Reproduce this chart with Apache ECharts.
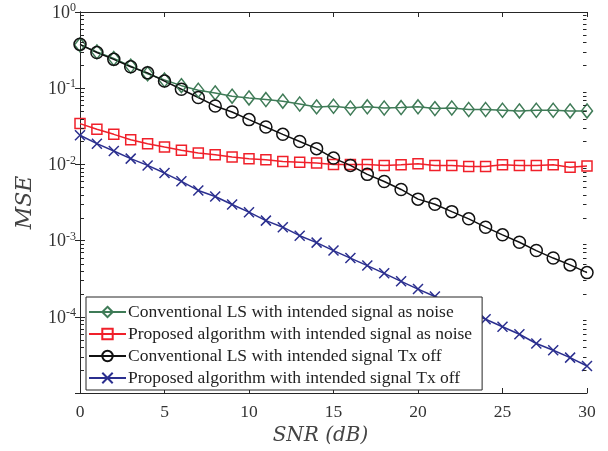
<!DOCTYPE html>
<html>
<head>
<meta charset="utf-8">
<script src="https://cdn.jsdelivr.net/npm/echarts@6/dist/echarts.min.js"></script>
<style>
  html, body { margin: 0; padding: 0; background: #fff; }
  #chart { width: 608px; height: 451px; }
</style>
</head>
<body>
<div id="chart"></div>
<script>
// SNR points (dB)
const snr = [0, 1, 2, 3, 4, 5, 6, 7, 8, 9, 10, 11, 12, 13, 14, 15, 16, 17, 18, 19, 20, 21, 22, 23, 24, 25, 26, 27, 28, 29, 30];

const lsNoise = [0.37, 0.30, 0.245, 0.195, 0.155, 0.128, 0.108, 0.094, 0.0867, 0.0785, 0.0745, 0.071, 0.0675, 0.062, 0.0568, 0.058,
    0.055, 0.057, 0.055, 0.0557, 0.057, 0.054, 0.055, 0.0525, 0.0525, 0.0514, 0.0503, 0.0514, 0.0514, 0.0503, 0.0503];
const propNoise = [0.0343, 0.0289, 0.0248, 0.0211, 0.0187, 0.0169, 0.0153, 0.0141, 0.0134, 0.0125, 0.0119, 0.0115, 0.0109, 0.0107, 0.0104, 0.0100,
    0.0100, 0.0100, 0.0097, 0.0099, 0.0102, 0.0097, 0.0097, 0.0094, 0.0094, 0.0099, 0.0097, 0.0097, 0.0099, 0.0092, 0.0095];
const lsOff = [0.376, 0.294, 0.239, 0.191, 0.159, 0.124, 0.097, 0.0755, 0.0585, 0.0488, 0.0387, 0.031, 0.0248, 0.020, 0.0161, 0.0121,
    0.0097, 0.0074, 0.00597, 0.00469, 0.0035, 0.003, 0.0024, 0.00193, 0.0015, 0.00119, 0.00095, 0.00074, 0.00059, 0.00048, 0.00038];
const propOff = [0.0241, 0.0187, 0.015, 0.0119, 0.0097, 0.0077, 0.006, 0.00455, 0.00379, 0.00298, 0.00236, 0.00183, 0.0015, 0.00116, 0.00094, 0.00074,
    0.00059, 0.00047, 0.000372, 0.000292, 0.000231, 0.000185, 0.000148, 0.000117, 0.000093, 0.000074, 0.000059, 0.0000446, 0.0000364, 0.0000291, 0.0000226];

const names = [
    'Conventional LS with intended signal as noise',
    'Proposed algorithm with intended signal as noise',
    'Conventional LS with intended signal Tx off',
    'Proposed algorithm with intended signal Tx off'
];

const xTicks = [0, 5, 10, 15, 20, 25, 30];
const yDecades = [1e-5, 1e-4, 1e-3, 1e-2, 1e-1, 1];

// minor ticks at 2..9 x 10^k
const minorTicks = [];
for (let i = 0; i < yDecades.length - 1; i++) {
    for (let m = 2; m <= 9; m++) minorTicks.push([0, yDecades[i] * m]);
}

const font = 'Liberation Serif';
const nameFont = 'DejaVu Serif';
const axisColor = '#262626';
const crossPath = 'path://M0,0L10,10M10,0L0,10';

function pairs(ys) {
    return snr.map((x, i) => [x, ys[i]]);
}

function lineSeries(name, ys, color, symbol, size) {
    return {
        name: name,
        type: 'line',
        data: pairs(ys),
        symbol: symbol,
        symbolSize: size,
        showAllSymbol: true,
        lineStyle: { color: color, width: 1.5 },
        itemStyle: { color: 'rgba(0,0,0,0)', borderColor: color, borderWidth: 1.5 },
        emphasis: { disabled: true },
        animation: false,
        z: 3
    };
}

const chart = echarts.init(document.getElementById('chart'));

const option = {
    backgroundColor: '#fff',
    animation: false,
    grid: { left: 80, right: 21, top: 12, bottom: 58 },
    legend: {
        data: names,
        orient: 'vertical',
        left: 86,
        top: 297,
        padding: [6, 10, 3, 2],
        itemWidth: 37,
        itemHeight: 13,
        itemGap: 4,
        backgroundColor: '#fff',
        borderColor: axisColor,
        borderWidth: 1,
        borderRadius: 0,
        textStyle: { fontFamily: font, fontSize: 17.5, color: '#222', lineHeight: 17, padding: [0, 0, 0, -3] }
    },
    xAxis: [
        {
            type: 'value',
            min: 0, max: 30, interval: 5,
            name: 'SNR (dB)',
            nameLocation: 'middle',
            nameGap: 31,
            nameTextStyle: { fontFamily: nameFont, fontStyle: 'italic', fontSize: 20, color: '#444', padding: [0, 26, 0, 0] },
            axisLine: { show: true, lineStyle: { color: axisColor, width: 1 } },
            axisTick: { inside: true, length: 5, lineStyle: { color: axisColor } },
            axisLabel: { fontFamily: font, fontSize: 17.5, color: '#333', margin: 10,
                formatter: v => xTicks.includes(v) ? String(v) : '' },
            splitLine: { show: false }
        },
        {
            type: 'value',
            position: 'top',
            min: 0, max: 30, interval: 5,
            axisLine: { show: true, lineStyle: { color: axisColor, width: 1 } },
            axisTick: { inside: true, length: 5, lineStyle: { color: axisColor } },
            axisLabel: { show: false },
            splitLine: { show: false }
        }
    ],
    yAxis: [
        {
            type: 'log',
            logBase: 10,
            min: yDecades[0], max: yDecades[yDecades.length - 1],
            name: 'MSE',
            nameLocation: 'middle',
            nameGap: 44,
            nameTextStyle: { fontFamily: nameFont, fontStyle: 'italic', fontSize: 22, color: '#444' },
            axisLine: { show: true, lineStyle: { color: axisColor, width: 1 } },
            axisTick: { inside: true, length: 5, lineStyle: { color: axisColor } },
            axisLabel: {
                showMinLabel: false,
                margin: 4,
                formatter: v => '{b|10}{s|' + Math.round(Math.log10(v)) + '}',
                rich: {
                    b: { fontFamily: font, fontSize: 18, color: '#333', lineHeight: 20, verticalAlign: 'bottom' },
                    s: { fontFamily: font, fontSize: 12, color: '#333', lineHeight: 8, verticalAlign: 'top' }
                }
            },
            splitLine: { show: false }
        },
        {
            type: 'log',
            logBase: 10,
            position: 'right',
            min: yDecades[0], max: yDecades[yDecades.length - 1],
            axisLine: { show: true, lineStyle: { color: axisColor, width: 1 } },
            axisTick: { inside: true, length: 5, lineStyle: { color: axisColor } },
            axisLabel: { show: false },
            splitLine: { show: false }
        }
    ],
    series: [
        {
            type: 'custom',
            silent: true,
            clip: false,
            data: minorTicks,
            z: 5,
            renderItem: function (params, api) {
                const v = api.value(1);
                const l = api.coord([0, v]);
                const r = api.coord([30, v]);
                const y = Math.round(l[1]) + 0.5;
                return {
                    type: 'group',
                    children: [
                        { type: 'line', shape: { x1: l[0] + 0.5, y1: y, x2: l[0] + 4, y2: y }, style: { stroke: axisColor, lineWidth: 1 } },
                        { type: 'line', shape: { x1: r[0] - 0.5, y1: y, x2: r[0] - 4, y2: y }, style: { stroke: axisColor, lineWidth: 1 } }
                    ]
                };
            }
        },
        lineSeries(names[0], lsNoise, '#3f7b57', 'diamond', [11, 14]),
        lineSeries(names[1], propNoise, '#f0202a', 'rect', 10),
        lineSeries(names[2], lsOff, '#111111', 'circle', 12),
        lineSeries(names[3], propOff, '#2b2f8f', crossPath, 10)
    ]
};

chart.setOption(option);
</script>
</body>
</html>
